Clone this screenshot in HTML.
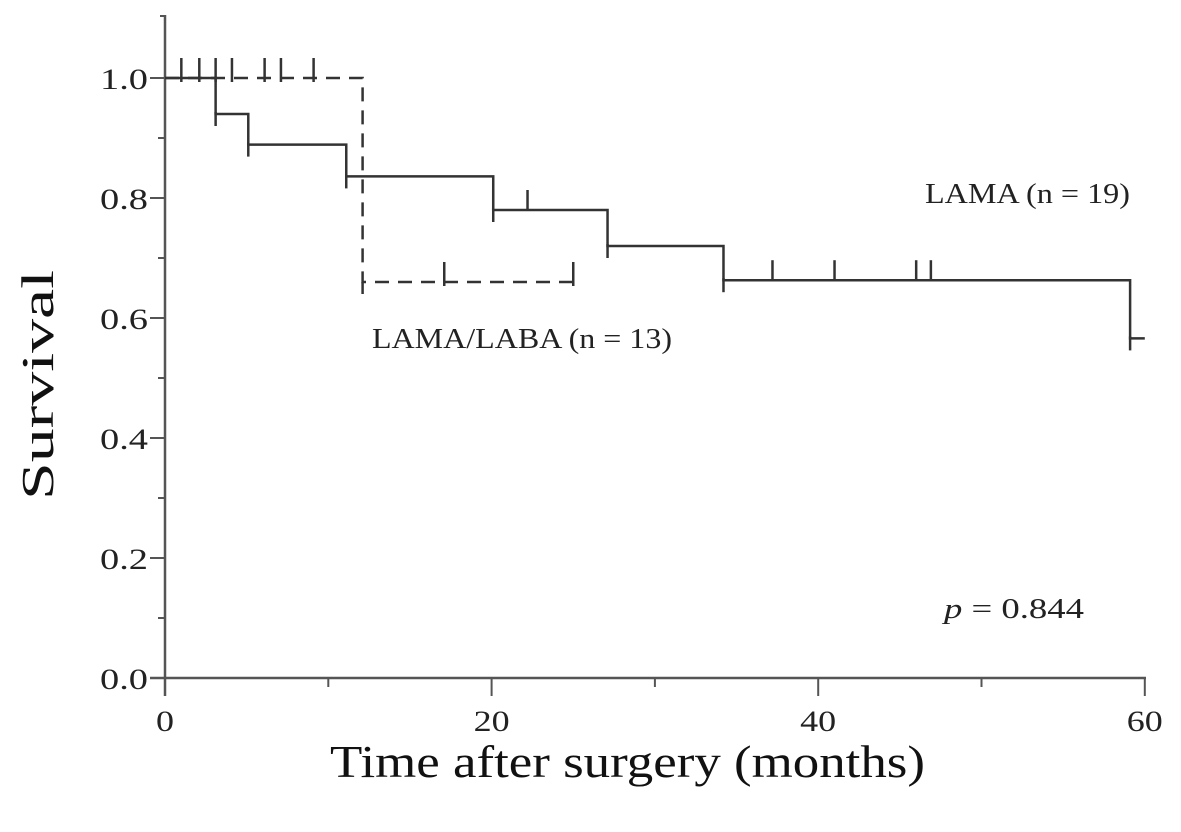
<!DOCTYPE html>
<html><head><meta charset="utf-8"><style>
html,body{margin:0;padding:0;background:#fff;}
svg{display:block;font-family:"Liberation Serif",serif;}
</style></head><body>
<svg id="chart" width="1181" height="832" viewBox="0 0 1181 832">
<g id="axes"></g>
<g id="series"></g>
<text x="925" y="203" font-size="28" fill="#222" textLength="205" lengthAdjust="spacingAndGlyphs">LAMA (n = 19)</text>
<text x="372" y="348" font-size="28" fill="#222" textLength="300" lengthAdjust="spacingAndGlyphs">LAMA/LABA (n = 13)</text>
<text x="944" y="618" font-size="28" fill="#222" textLength="140" lengthAdjust="spacingAndGlyphs"><tspan font-style="italic">p</tspan> = 0.844</text>
<text x="330" y="777" font-size="46" fill="#111" textLength="595" lengthAdjust="spacingAndGlyphs">Time after surgery (months)</text>
<text transform="translate(53,500) rotate(-90)" font-size="46" fill="#111" textLength="230" lengthAdjust="spacingAndGlyphs">Survival</text>
</svg>
<script>
const xTicks=[0,20,40,60];
const xMinor=[10,30,50];
const yTicks=[0.0,0.2,0.4,0.6,0.8,1.0];
const yMinor=[0.1,0.3,0.5,0.7,0.9];
// LAMA (solid)
const lamaTimes=[0,3.1,5.1,11.1,20.1,27.1,34.2,59.1];
const lamaSurv=[1.0,0.94,0.889,0.836,0.78,0.72,0.663,0.566];
const lamaEnd=60;
const lamaCensor=[20.1,22.2,37.2,41.0,46.0,46.9];
// LAMA/LABA (dashed)
const comboTimes=[0,12.1];
const comboSurv=[1.0,0.66];
const comboEnd=25;
const comboCensor=[1.0,2.1,3.1,4.1,6.1,7.1,9.1,17.1,25];

const NS="http://www.w3.org/2000/svg";
const X=t=>165+t*16.33;
const Y=s=>678-s*600;
function el(tag,attrs,parent){const e=document.createElementNS(NS,tag);for(const k in attrs)e.setAttribute(k,attrs[k]);parent.appendChild(e);return e;}
const axes=document.getElementById('axes');
const ser=document.getElementById('series');
const ac="#555";
let a=el('line',{x1:165,y1:15,x2:165,y2:696,stroke:ac,'stroke-width':2.5},axes);

a=el('line',{x1:150,y1:678,x2:1146,y2:678,stroke:ac,'stroke-width':2.5},axes);

el('line',{x1:160,y1:16,x2:165,y2:16,stroke:ac,'stroke-width':2},axes);
yTicks.forEach(v=>{
  const t=el('line',{x1:150,y1:Y(v),x2:165,y2:Y(v),stroke:ac,'stroke-width':2},axes);
  
  const l=el('text',{x:100,y:Y(v)+11,'font-size':30,textLength:48,lengthAdjust:'spacingAndGlyphs',fill:'#222'},axes);
  l.textContent=v.toFixed(1);
  
});
yMinor.forEach(v=>{el('line',{x1:158,y1:Y(v),x2:165,y2:Y(v),stroke:ac,'stroke-width':2},axes);});
xTicks.forEach(v=>{
  const t=el('line',{x1:X(v),y1:678,x2:X(v),y2:696,stroke:ac,'stroke-width':2},axes);
  
  const s=String(v);
  const l=el('text',{x:X(v)-s.length*9,y:731,'font-size':30,textLength:s.length*18,lengthAdjust:'spacingAndGlyphs',fill:'#222'},axes);
  l.textContent=s;
  
});
xMinor.forEach(v=>{el('line',{x1:X(v),y1:678,x2:X(v),y2:687,stroke:ac,'stroke-width':2},axes);});

function stepPath(times,surv,end){
  let d=`M${X(times[0])},${Y(surv[0])}`;
  for(let i=1;i<times.length;i++){d+=` H${X(times[i])} V${Y(surv[i])}`;}
  d+=` H${X(end)}`;return d;
}
function survAt(times,surv,t){let s=surv[0];for(let i=0;i<times.length;i++)if(times[i]<=t)s=surv[i];return s;}
const lc="#333";
let p=el('path',{d:stepPath(lamaTimes,lamaSurv,lamaEnd),fill:'none',stroke:lc,'stroke-width':2.5},ser);

lamaTimes.slice(1).forEach((t,i)=>{el('line',{x1:X(t),y1:Y(lamaSurv[i+1])-2,x2:X(t),y2:Y(lamaSurv[i+1])+12,stroke:lc,'stroke-width':2.5},ser);});
lamaCensor.forEach(t=>{
  const s=survAt(lamaTimes,lamaSurv,t);
  const c=el('line',{x1:X(t),y1:Y(s),x2:X(t),y2:Y(s)-20,stroke:lc,'stroke-width':2.5},ser);
  
});
p=el('path',{d:stepPath(comboTimes,comboSurv,comboEnd),fill:'none',stroke:lc,'stroke-width':2.5,'stroke-dasharray':'14,9'},ser);

comboTimes.slice(1).forEach((t,i)=>{el('line',{x1:X(t),y1:Y(comboSurv[i+1]),x2:X(t),y2:Y(comboSurv[i+1])+12,stroke:lc,'stroke-width':2.5},ser);});
comboCensor.forEach(t=>{
  const s=survAt(comboTimes,comboSurv,t);
  const c=el('line',{x1:X(t),y1:Y(s)+4,x2:X(t),y2:Y(s)-20,stroke:lc,'stroke-width':2.5},ser);
  
});
</script>
</body></html>
